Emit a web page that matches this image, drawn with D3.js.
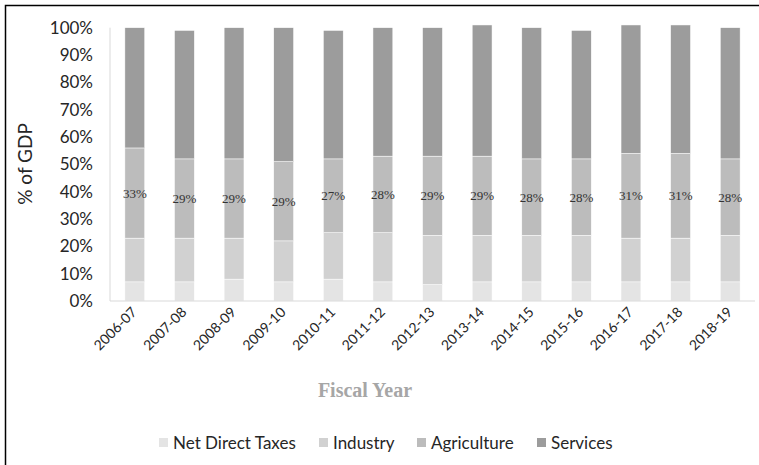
<html>
<head>
<script src="https://cdn.jsdelivr.net/npm/d3@7"></script>
<style>
body { margin: 0; background: #fff; }
</style>
</head>
<body>
<div id="chart"></div>
<script>
var years = ["2006-07", "2007-08", "2008-09", "2009-10", "2010-11", "2011-12", "2012-13",
             "2013-14", "2014-15", "2015-16", "2016-17", "2017-18", "2018-19"];
var netDirectTaxes = [7, 7, 8, 7, 8, 7, 6, 7, 7, 7, 7, 7, 7];
var industry       = [16, 16, 15, 15, 17, 18, 18, 17, 17, 17, 16, 16, 17];
var agriculture    = [33, 29, 29, 29, 27, 28, 29, 29, 28, 28, 31, 31, 28];
var services       = [44, 47, 48, 49, 47, 47, 47, 48, 48, 47, 47, 47, 48];
var seriesNames = ["Net Direct Taxes", "Industry", "Agriculture", "Services"];
var seriesColors = ["#e4e4e4", "#d1d1d1", "#bcbcbc", "#9c9c9c"];
var yTicks = [0, 10, 20, 30, 40, 50, 60, 70, 80, 90, 100];

var sans = "Lato, 'Open Sans', sans-serif";
var serif = "'Liberation Serif', 'Times New Roman', serif";

var width = 759, height = 465;
var svg = d3.select("#chart").append("svg")
  .attr("width", width)
  .attr("height", height)
  .style("font-family", sans);

// frame (only top and left edges show in the crop)
svg.append("rect")
  .attr("x", 5.5).attr("y", 5.5)
  .attr("width", width + 10).attr("height", height + 10)
  .attr("fill", "none").attr("stroke", "#000").attr("stroke-width", 1.5);

var x = d3.scaleBand().domain(years).range([110, 755]).paddingInner(0.6).paddingOuter(0.3);
var y = d3.scaleLinear().domain([0, 100]).range([301, 27.7]);

var rows = years.map(function(yr, i) {
  return { year: yr, "Net Direct Taxes": netDirectTaxes[i], "Industry": industry[i],
           "Agriculture": agriculture[i], "Services": services[i] };
});
var stacked = d3.stack().keys(seriesNames)(rows);

stacked.forEach(function(layer, k) {
  svg.append("g").selectAll("rect")
    .data(layer)
    .enter().append("rect")
    .attr("x", function(d) { return x(d.data.year); })
    .attr("y", function(d) { return y(d[1]); })
    .attr("width", x.bandwidth())
    .attr("height", function(d) { return y(d[0]) - y(d[1]); })
    .attr("fill", seriesColors[k])
    .attr("stroke", "#fff").attr("stroke-width", 0.5);
});

// axes lines
svg.append("line").attr("x1", 110).attr("x2", 110).attr("y1", 27.7).attr("y2", 301)
  .attr("stroke", "#d9d9d9").attr("stroke-width", 1);
svg.append("line").attr("x1", 110).attr("x2", 755).attr("y1", 301).attr("y2", 301)
  .attr("stroke", "#d9d9d9").attr("stroke-width", 1);

// y tick labels
svg.append("g").selectAll("text")
  .data(yTicks)
  .enter().append("text")
  .attr("x", 93)
  .attr("y", function(d) { return y(d); })
  .attr("dy", "0.36em")
  .attr("text-anchor", "end")
  .attr("font-size", 17)
  .attr("fill", "#262626")
  .text(function(d) { return d + "%"; });

// x tick labels
svg.append("g").selectAll("text")
  .data(years)
  .enter().append("text")
  .attr("transform", function(d) {
    return "translate(" + (x(d) + x.bandwidth() / 2 + 3) + ",313) rotate(-45)";
  })
  .attr("text-anchor", "end")
  .attr("font-size", 14)
  .attr("fill", "#262626")
  .text(function(d) { return d; });

// agriculture labels
var agriLayer = stacked[2];
svg.append("g").selectAll("text")
  .data(agriLayer)
  .enter().append("text")
  .attr("x", function(d) { return x(d.data.year) + x.bandwidth() / 2; })
  .attr("y", function(d) { return y((d[0] + d[1]) / 2); })
  .attr("dy", "0.35em")
  .attr("text-anchor", "middle")
  .style("font-family", serif)
  .attr("font-size", 13)
  .attr("fill", "#333")
  .text(function(d, i) { return agriculture[i] + "%"; });

// axis titles
svg.append("text")
  .attr("transform", "translate(32,164) rotate(-90)")
  .attr("text-anchor", "middle")
  .attr("font-size", 19)
  .attr("fill", "#262626")
  .text("% of GDP");

svg.append("text")
  .attr("x", 365).attr("y", 397)
  .attr("text-anchor", "middle")
  .style("font-family", serif)
  .attr("font-weight", "bold")
  .attr("font-size", 20)
  .attr("fill", "#a6a6a6")
  .text("Fiscal Year");

// legend
var legendX = [159, 319, 417, 537];
var legend = svg.append("g").selectAll("g")
  .data(seriesNames)
  .enter().append("g")
  .attr("transform", function(d, i) { return "translate(" + legendX[i] + ",443)"; });
legend.append("rect")
  .attr("x", 0).attr("y", -5).attr("width", 9).attr("height", 9)
  .attr("fill", function(d, i) { return seriesColors[i]; });
legend.append("text")
  .attr("x", 14).attr("dy", "0.35em")
  .attr("font-size", 17)
  .attr("fill", "#262626")
  .text(function(d) { return d; });
</script>
</body>
</html>
